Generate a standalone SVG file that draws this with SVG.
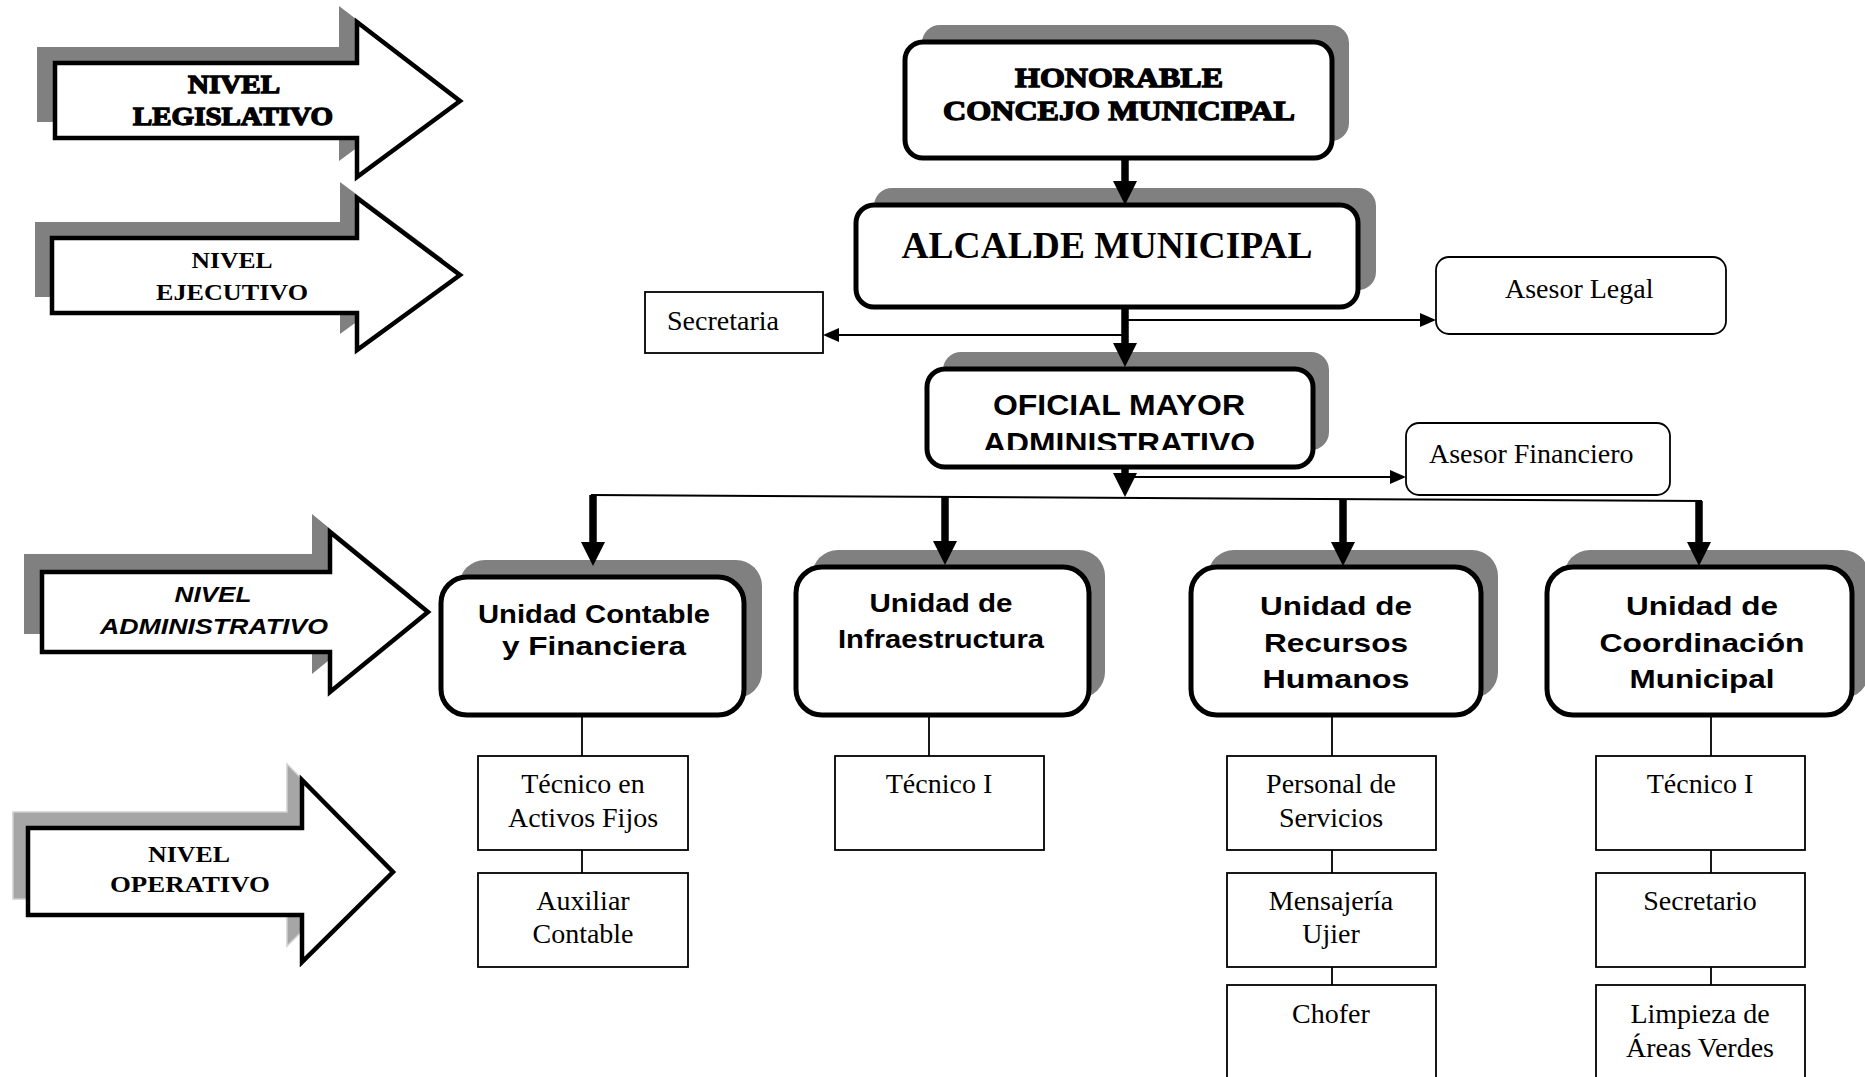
<svg xmlns="http://www.w3.org/2000/svg" width="1865" height="1077" viewBox="0 0 1865 1077">
<style>
.shadow{fill:#808080;stroke:none}
.shadow2{fill:#a6a6a6;stroke:#d0d0d0;stroke-width:1.5}
.arrowshape{fill:#fff;stroke:#000;stroke-width:4.5;stroke-linejoin:miter}
.main{fill:#fff;stroke:#000;stroke-width:5}
.thinbox{fill:#fff;stroke:#000;stroke-width:1.8}
.fat{font-family:"Liberation Serif","Times New Roman",serif;font-weight:bold;fill:#000;stroke:#000;stroke-width:1.3;text-anchor:middle}
.serifb{font-family:"Liberation Serif","Times New Roman",serif;font-weight:bold;fill:#000;text-anchor:middle}
.sansb{font-family:"Liberation Sans",Arial,sans-serif;font-weight:bold;fill:#000;text-anchor:middle}
.serif{font-family:"Liberation Serif","Times New Roman",serif;font-size:28px;fill:#000;text-anchor:middle}
.thick{stroke:#000;stroke-width:7.5;fill:none}
.thin{stroke:#000;stroke-width:2;fill:none}
.vline{stroke:#000;stroke-width:1.8;fill:none}
</style>
<defs>
<marker id="bighead" viewBox="0 0 24 24" refX="0" refY="12" markerWidth="24" markerHeight="24" markerUnits="userSpaceOnUse" orient="auto"><path d="M0,0 L24,12 L0,24 z" fill="#000"/></marker>
<marker id="smallhead" viewBox="0 0 16 14" refX="0" refY="7" markerWidth="16" markerHeight="14" markerUnits="userSpaceOnUse" orient="auto"><path d="M0,0 L16,7 L0,14 z" fill="#000"/></marker>
<clipPath id="oficialclip"><rect x="930" y="372" width="380" height="78"/></clipPath>
</defs>

<!-- Level arrows -->
<g id="nivel-legislativo">
<polygon class="shadow" points="37,47 339,47 339,6 442,85 339,161 339,122 37,122"/>
<polygon class="arrowshape" points="55,63 357,63 357,22 460,101 357,177 357,138 55,138"/>
<text class="fat" x="234" y="93" font-size="25" textLength="92" lengthAdjust="spacingAndGlyphs">NIVEL</text>
<text class="fat" x="233" y="125" font-size="25" textLength="200" lengthAdjust="spacingAndGlyphs">LEGISLATIVO</text>
</g>
<g id="nivel-ejecutivo">
<polygon class="shadow" points="35,222 340,222 340,182 443,259 340,334 340,297 35,297"/>
<polygon class="arrowshape" points="52,238 357,238 357,198 460,275 357,350 357,313 52,313"/>
<text class="serifb" x="232" y="268" font-size="23" textLength="81" lengthAdjust="spacingAndGlyphs">NIVEL</text>
<text class="serifb" x="232" y="300" font-size="23" textLength="152" lengthAdjust="spacingAndGlyphs">EJECUTIVO</text>
</g>
<g id="nivel-administrativo">
<polygon class="shadow" points="24,554 312,554 312,514 410,594 312,674 312,634 24,634"/>
<polygon class="arrowshape" points="42,572 330,572 330,532 428,612 330,692 330,652 42,652"/>
<text class="sansb" x="213" y="602" font-size="22" font-style="italic" textLength="77" lengthAdjust="spacingAndGlyphs">NIVEL</text>
<text class="sansb" x="214" y="634" font-size="22" font-style="italic" textLength="228" lengthAdjust="spacingAndGlyphs">ADMINISTRATIVO</text>
</g>
<g id="nivel-operativo">
<polygon class="shadow2" points="13,812 287,812 287,764 378,856 287,946 287,899 13,899"/>
<polygon class="arrowshape" points="28,828 302,828 302,780 393,872 302,962 302,915 28,915"/>
<text class="serifb" x="189" y="862" font-size="23" textLength="82" lengthAdjust="spacingAndGlyphs">NIVEL</text>
<text class="serifb" x="190" y="892" font-size="23" textLength="160" lengthAdjust="spacingAndGlyphs">OPERATIVO</text>
</g>

<!-- Main hierarchy -->
<g id="honorable-concejo">
<rect class="shadow" x="922" y="25" width="427" height="116" rx="18"/>
<rect class="main" x="905" y="42" width="427" height="116" rx="18"/>
<text class="fat" x="1119" y="87" font-size="27" textLength="208" lengthAdjust="spacingAndGlyphs">HONORABLE</text>
<text class="fat" x="1119" y="120" font-size="27" textLength="352" lengthAdjust="spacingAndGlyphs">CONCEJO MUNICIPAL</text>
</g>
<g id="alcalde">
<rect class="shadow" x="874" y="188" width="502" height="102" rx="18"/>
<rect class="main" x="856" y="205" width="502" height="102" rx="18"/>
<text class="serifb" x="1107" y="258" font-size="37" textLength="411" lengthAdjust="spacingAndGlyphs">ALCALDE MUNICIPAL</text>
</g>
<g id="secretaria">
<rect class="thinbox" x="645" y="292" width="178" height="61"/>
<text class="serif" x="667" y="330" style="text-anchor:start">Secretaria</text>
</g>
<g id="asesor-legal">
<rect class="thinbox" x="1436" y="257" width="290" height="77" rx="13"/>
<text class="serif" x="1505" y="298" style="text-anchor:start">Asesor Legal</text>
</g>
<g id="oficial-mayor">
<rect class="shadow" x="943" y="352" width="386" height="98" rx="18"/>
<rect class="main" x="927" y="369" width="386" height="98" rx="18"/>
<text class="sansb" x="1119" y="415" font-size="29" textLength="252" lengthAdjust="spacingAndGlyphs">OFICIAL MAYOR</text>
<text class="sansb" x="1119" y="453" font-size="29" textLength="272" lengthAdjust="spacingAndGlyphs" clip-path="url(#oficialclip)">ADMINISTRATIVO</text>
</g>
<g id="asesor-financiero">
<rect class="thinbox" x="1406" y="423" width="264" height="72" rx="13"/>
<text class="serif" x="1429" y="463" style="text-anchor:start">Asesor Financiero</text>
</g>

<!-- Units -->
<g id="unidad-contable">
<rect class="shadow" x="459" y="560" width="303" height="138" rx="26"/>
<rect class="main" x="441" y="577" width="303" height="138" rx="26"/>
<text class="sansb" x="594" y="623" font-size="26" textLength="232" lengthAdjust="spacingAndGlyphs">Unidad Contable</text>
<text class="sansb" x="594" y="655" font-size="26" textLength="184" lengthAdjust="spacingAndGlyphs">y Financiera</text>
</g>
<g id="unidad-infraestructura">
<rect class="shadow" x="812" y="550" width="293" height="148" rx="26"/>
<rect class="main" x="796" y="567" width="293" height="148" rx="26"/>
<text class="sansb" x="941" y="612" font-size="26" textLength="143" lengthAdjust="spacingAndGlyphs">Unidad de</text>
<text class="sansb" x="941" y="648" font-size="26" textLength="206" lengthAdjust="spacingAndGlyphs">Infraestructura</text>
</g>
<g id="unidad-rrhh">
<rect class="shadow" x="1208" y="550" width="290" height="148" rx="26"/>
<rect class="main" x="1191" y="567" width="290" height="148" rx="26"/>
<text class="sansb" x="1336" y="615" font-size="26" textLength="152" lengthAdjust="spacingAndGlyphs">Unidad de</text>
<text class="sansb" x="1336" y="652" font-size="26" textLength="144" lengthAdjust="spacingAndGlyphs">Recursos</text>
<text class="sansb" x="1336" y="688" font-size="26" textLength="147" lengthAdjust="spacingAndGlyphs">Humanos</text>
</g>
<g id="unidad-coordinacion">
<rect class="shadow" x="1564" y="550" width="305" height="148" rx="26"/>
<rect class="main" x="1547" y="567" width="305" height="148" rx="26"/>
<text class="sansb" x="1702" y="615" font-size="26" textLength="152" lengthAdjust="spacingAndGlyphs">Unidad de</text>
<text class="sansb" x="1702" y="652" font-size="26" textLength="205" lengthAdjust="spacingAndGlyphs">Coordinación</text>
<text class="sansb" x="1702" y="688" font-size="26" textLength="145" lengthAdjust="spacingAndGlyphs">Municipal</text>
</g>

<!-- Operative boxes -->
<g id="tecnico-activos-fijos">
<rect class="thinbox" x="478" y="756" width="210" height="94"/>
<text class="serif" x="583" y="793">Técnico en</text>
<text class="serif" x="583" y="827">Activos Fijos</text>
</g>
<g id="auxiliar-contable">
<rect class="thinbox" x="478" y="873" width="210" height="94"/>
<text class="serif" x="583" y="910">Auxiliar</text>
<text class="serif" x="583" y="943">Contable</text>
</g>
<g id="tecnico-i-infra">
<rect class="thinbox" x="835" y="756" width="209" height="94"/>
<text class="serif" x="939" y="793">Técnico I</text>
</g>
<g id="personal-servicios">
<rect class="thinbox" x="1227" y="756" width="209" height="94"/>
<text class="serif" x="1331" y="793">Personal de</text>
<text class="serif" x="1331" y="827">Servicios</text>
</g>
<g id="mensajeria-ujier">
<rect class="thinbox" x="1227" y="873" width="209" height="94"/>
<text class="serif" x="1331" y="910">Mensajería</text>
<text class="serif" x="1331" y="943">Ujier</text>
</g>
<g id="chofer">
<rect class="thinbox" x="1227" y="985" width="209" height="120"/>
<text class="serif" x="1331" y="1023">Chofer</text>
</g>
<g id="tecnico-i-coord">
<rect class="thinbox" x="1596" y="756" width="209" height="94"/>
<text class="serif" x="1700" y="793">Técnico I</text>
</g>
<g id="secretario">
<rect class="thinbox" x="1596" y="873" width="209" height="94"/>
<text class="serif" x="1700" y="910">Secretario</text>
</g>
<g id="limpieza-areas-verdes">
<rect class="thinbox" x="1596" y="985" width="209" height="120"/>
<text class="serif" x="1700" y="1023">Limpieza de</text>
<text class="serif" x="1700" y="1057">Áreas Verdes</text>
</g>

<!-- Connectors -->
<g id="connectors">
<line class="thick" x1="1125" y1="158" x2="1125" y2="181" marker-end="url(#bighead)"/>
<line class="thick" x1="1125" y1="307" x2="1125" y2="343" marker-end="url(#bighead)"/>
<line class="thin" x1="1125" y1="320" x2="1420" y2="320" marker-end="url(#smallhead)"/>
<line class="thin" x1="1125" y1="335" x2="839" y2="335" marker-end="url(#smallhead)"/>
<line class="thick" x1="1125" y1="467" x2="1125" y2="473" marker-end="url(#bighead)"/>
<line class="thin" x1="1125" y1="477" x2="1390" y2="477" marker-end="url(#smallhead)"/>
<line class="thin" x1="591" y1="495" x2="1702" y2="501"/>
<line class="thick" x1="593" y1="495" x2="593" y2="542" marker-end="url(#bighead)"/>
<line class="thick" x1="945" y1="497" x2="945" y2="541" marker-end="url(#bighead)"/>
<line class="thick" x1="1343" y1="499" x2="1343" y2="542" marker-end="url(#bighead)"/>
<line class="thick" x1="1699" y1="501" x2="1699" y2="542" marker-end="url(#bighead)"/>
<line class="vline" x1="582" y1="715" x2="582" y2="756"/>
<line class="vline" x1="582" y1="850" x2="582" y2="873"/>
<line class="vline" x1="929" y1="715" x2="929" y2="756"/>
<line class="vline" x1="1332" y1="715" x2="1332" y2="756"/>
<line class="vline" x1="1332" y1="850" x2="1332" y2="873"/>
<line class="vline" x1="1332" y1="967" x2="1332" y2="985"/>
<line class="vline" x1="1711" y1="715" x2="1711" y2="756"/>
<line class="vline" x1="1711" y1="850" x2="1711" y2="873"/>
<line class="vline" x1="1711" y1="967" x2="1711" y2="985"/>
</g>
</svg>
